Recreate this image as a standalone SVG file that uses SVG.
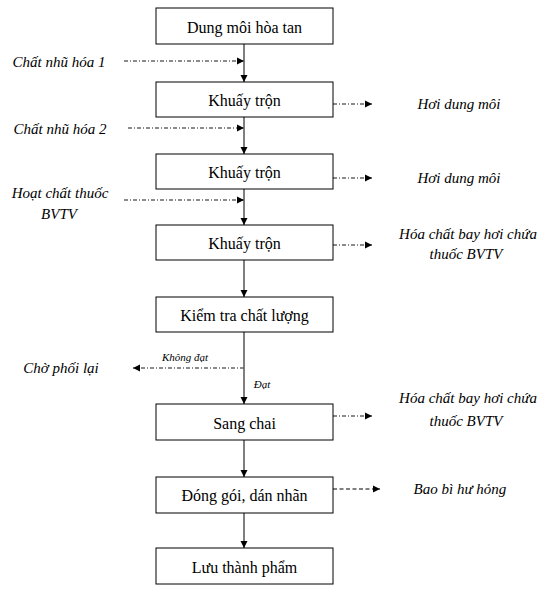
<svg xmlns="http://www.w3.org/2000/svg" width="551" height="593" viewBox="0 0 551 593">
<style>
.box{fill:#fff;stroke:#000;stroke-width:1}
.bt{font-size:16px;fill:#000;text-anchor:middle;dominant-baseline:central}
.it{font-style:italic;font-size:15px;fill:#000;text-anchor:middle;dominant-baseline:central}
.sm{font-style:italic;font-size:11px;fill:#000;text-anchor:middle;dominant-baseline:central}
.main{stroke:#7f7f7f;stroke-width:2;fill:none}
.dd{stroke:#666;stroke-width:1.3;fill:none;stroke-dasharray:4 2 1 2}
.ds{stroke:#808080;stroke-width:2;fill:none;stroke-dasharray:4 2.5}
</style>
<defs>
<marker id="ah" markerWidth="8" markerHeight="8" refX="7" refY="4" orient="auto" markerUnits="userSpaceOnUse">
<path d="M0,0.5 L7,4 L0,7.5 Z" fill="#000"/>
</marker>
</defs>
<rect width="551" height="593" fill="#fff"/>
<g id="connectors">
<line class="main" x1="244" y1="44" x2="244" y2="82" marker-end="url(#ah)"/>
<line class="main" x1="244" y1="117" x2="244" y2="154" marker-end="url(#ah)"/>
<line class="main" x1="244" y1="189" x2="244" y2="225" marker-end="url(#ah)"/>
<line class="main" x1="244" y1="260" x2="244" y2="297" marker-end="url(#ah)"/>
<line class="main" x1="244" y1="332" x2="244" y2="404" marker-end="url(#ah)"/>
<line class="main" x1="244" y1="440" x2="244" y2="477" marker-end="url(#ah)"/>
<line class="main" x1="244" y1="513" x2="244" y2="548" marker-end="url(#ah)"/>
<line class="dd" x1="124" y1="61" x2="244" y2="61" marker-end="url(#ah)"/>
<line class="dd" x1="128" y1="128" x2="244" y2="128" marker-end="url(#ah)"/>
<line class="dd" x1="124" y1="200" x2="244" y2="200" marker-end="url(#ah)"/>
<line class="dd" x1="333" y1="104" x2="372" y2="104" marker-end="url(#ah)"/>
<line class="dd" x1="333" y1="178" x2="372" y2="178" marker-end="url(#ah)"/>
<line class="dd" x1="333" y1="245" x2="372" y2="245" marker-end="url(#ah)"/>
<line class="dd" x1="333" y1="416" x2="372" y2="416" marker-end="url(#ah)"/>
<line class="ds" x1="333" y1="489" x2="380" y2="489" marker-end="url(#ah)"/>
<line class="dd" x1="244" y1="368" x2="133" y2="368" marker-end="url(#ah)"/>
</g>
<g font-family="Liberation Serif, DejaVu Serif, serif">
<g id="n1"><rect class="box" x="156" y="8" width="177" height="36"/><text class="bt" x="244.5" y="27">Dung môi hòa tan</text></g>
<g id="n2"><rect class="box" x="156" y="82" width="177" height="35"/><text class="bt" x="244.5" y="100">Khuấy trộn</text></g>
<g id="n3"><rect class="box" x="156" y="154" width="177" height="35"/><text class="bt" x="244.5" y="172">Khuấy trộn</text></g>
<g id="n4"><rect class="box" x="156" y="225" width="177" height="35"/><text class="bt" x="244.5" y="243">Khuấy trộn</text></g>
<g id="n5"><rect class="box" x="156" y="297" width="177" height="35"/><text class="bt" x="244.5" y="315">Kiểm tra chất lượng</text></g>
<g id="n6"><rect class="box" x="156" y="404" width="177" height="36"/><text class="bt" x="244.5" y="423">Sang chai</text></g>
<g id="n7"><rect class="box" x="156" y="477" width="177" height="36"/><text class="bt" x="244.5" y="495">Đóng gói, dán nhãn</text></g>
<g id="n8"><rect class="box" x="156" y="548" width="177" height="36"/><text class="bt" x="244.5" y="567">Lưu thành phẩm</text></g>
<g id="labels">
<text class="it" x="59" y="62">Chất nhũ hóa 1</text>
<text class="it" x="60" y="129">Chất nhũ hóa 2</text>
<text class="it" x="60" y="193">Hoạt chất thuốc</text>
<text class="it" x="59" y="214">BVTV</text>
<text class="it" x="459" y="104">Hơi dung môi</text>
<text class="it" x="459" y="178">Hơi dung môi</text>
<text class="it" x="468" y="234">Hóa chất bay hơi chứa</text>
<text class="it" x="466" y="254">thuốc BVTV</text>
<text class="it" x="468" y="398">Hóa chất bay hơi chứa</text>
<text class="it" x="466" y="421">thuốc BVTV</text>
<text class="it" x="460" y="489">Bao bì hư hỏng</text>
<text class="it" x="61" y="368">Chờ phối lại</text>
<text class="sm" x="185" y="357">Không đạt</text>
<text class="sm" x="262" y="384">Đạt</text>
</g>
</g>
</svg>
